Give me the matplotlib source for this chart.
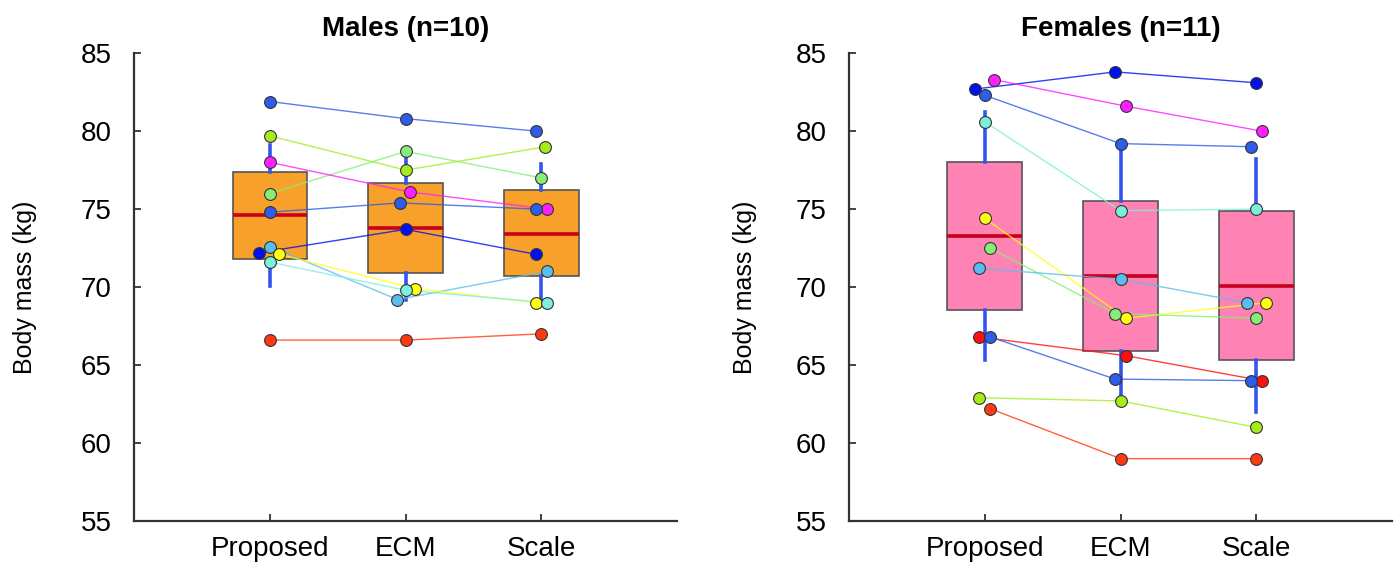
import matplotlib
matplotlib.use("Agg")
from matplotlib import pyplot as plt

plt.rcParams['font.family'] = ['Liberation Sans', 'DejaVu Sans']

methods = ["Proposed", "ECM", "Scale"]

# males: body mass per subject (Proposed, ECM, Scale)
male_mass = [
    [81.9, 80.8, 80.0],
    [79.7, 77.5, 79.0],
    [76.0, 78.7, 77.0],
    [78.0, 76.1, 75.0],
    [74.8, 75.4, 75.0],
    [72.2, 73.7, 72.1],
    [72.6, 69.2, 71.0],
    [72.1, 69.9, 69.0],
    [71.6, 69.8, 69.0],
    [66.6, 66.6, 67.0],
]
male_colors = ["#2f5ce8", "#a6ec1c", "#86ee78", "#ff1eff", "#2f5ce8",
               "#0010ee", "#5bbdee", "#ffff10", "#7cf0dc", "#ff3a10"]
male_jitter = [
    [0, 0, -0.04],
    [0, 0, 0.03],
    [0, 0, 0],
    [0, 0.03, 0.04],
    [0, -0.04, -0.04],
    [-0.08, 0, -0.04],
    [0, -0.06, 0.04],
    [0.07, 0.07, -0.04],
    [0, 0, 0.04],
    [0, 0, 0],
]

# females
female_mass = [
    [82.7, 83.8, 83.1],
    [83.3, 81.6, 80.0],
    [82.3, 79.2, 79.0],
    [80.6, 74.9, 75.0],
    [74.4, 68.0, 69.0],
    [72.5, 68.3, 68.0],
    [71.2, 70.5, 69.0],
    [66.8, 65.6, 64.0],
    [66.8, 64.1, 64.0],
    [62.9, 62.7, 61.0],
    [62.2, 59.0, 59.0],
]
female_colors = ["#0010ee", "#ff1eff", "#2f5ce8", "#7cf0dc", "#ffff10",
                 "#86ee78", "#5bbdee", "#ff1010", "#2f5ce8", "#a6ec1c",
                 "#ff3a10"]
female_jitter = [
    [-0.07, -0.04, 0],
    [0.07, 0.04, 0.04],
    [0, 0, -0.04],
    [0, 0, 0],
    [0, 0.04, 0.07],
    [0.04, -0.04, 0],
    [-0.04, 0, -0.07],
    [-0.04, 0.04, 0.04],
    [0.04, -0.04, -0.04],
    [-0.04, 0, 0],
    [0.04, 0, 0],
]

# box summaries: low whisker, q1, median, q3, high whisker
male_box = [
    [70.1, 71.8, 74.6, 77.4, 79.1],
    [69.2, 70.9, 73.8, 76.7, 78.6],
    [69.1, 70.7, 73.4, 76.2, 77.9],
]
female_box = [
    [65.3, 68.5, 73.3, 78.0, 81.2],
    [62.7, 65.9, 70.7, 75.5, 79.2],
    [62.0, 65.3, 70.1, 74.9, 78.2],
]


def panel(ax, title, mass, colors, jitter, box, facecolor, ylab_x):
    stats = []
    for lo, q1, med, q3, hi in box:
        stats.append(dict(whislo=lo, q1=q1, med=med, q3=q3, whishi=hi, fliers=[]))
    ax.bxp(stats, positions=[1, 2, 3], widths=0.55, showcaps=False,
           showfliers=False, patch_artist=True,
           boxprops=dict(facecolor=facecolor, edgecolor="#555555", linewidth=1.2),
           whiskerprops=dict(color="#3355ee", linewidth=2.6),
           medianprops=dict(color="#c8001e", linewidth=2.6),
           zorder=1)
    for vals, c, jit in zip(mass, colors, jitter):
        xs = [i + 1 + j for i, j in enumerate(jit)]
        ax.plot(xs, vals, color=c, linewidth=1.0, alpha=0.8, zorder=2)
        ax.plot(xs, vals, linestyle="none", marker="o", markersize=8.5,
                markerfacecolor=c, markeredgecolor="#333333",
                markeredgewidth=0.8, zorder=3)
    ax.set_xlim(0, 4)
    ax.set_ylim(55, 85)
    ax.set_yticks([55, 60, 65, 70, 75, 80, 85])
    ax.set_xticks([1, 2, 3])
    ax.set_xticklabels(methods)
    ax.tick_params(direction="in", length=5, width=1.3, color="#333333",
                   labelsize=20)
    ax.tick_params(axis="y", pad=16)
    ax.tick_params(axis="x", pad=11)
    for s in ["top", "right"]:
        ax.spines[s].set_visible(False)
    for s in ["left", "bottom"]:
        ax.spines[s].set_linewidth(1.6)
        ax.spines[s].set_color("#333333")
    ax.set_ylabel("Body mass (kg)", fontsize=18)
    ax.yaxis.set_label_coords(ylab_x, 0.5)
    ax.set_title(title, fontsize=20, fontweight="bold", pad=12)


fig = plt.figure(figsize=(13.98, 5.65), dpi=100)
ax1 = fig.add_axes([0.0959, 0.0779, 0.3885, 0.828])
ax2 = fig.add_axes([0.6073, 0.0779, 0.3885, 0.828])

panel(ax1, "Males (n=10)", male_mass, male_colors, male_jitter, male_box,
      "#f8a12a", -0.178)
panel(ax2, "Females (n=11)", female_mass, female_colors, female_jitter,
      female_box, "#ff82b4", -0.17)

fig.savefig("out.png", dpi=100)
